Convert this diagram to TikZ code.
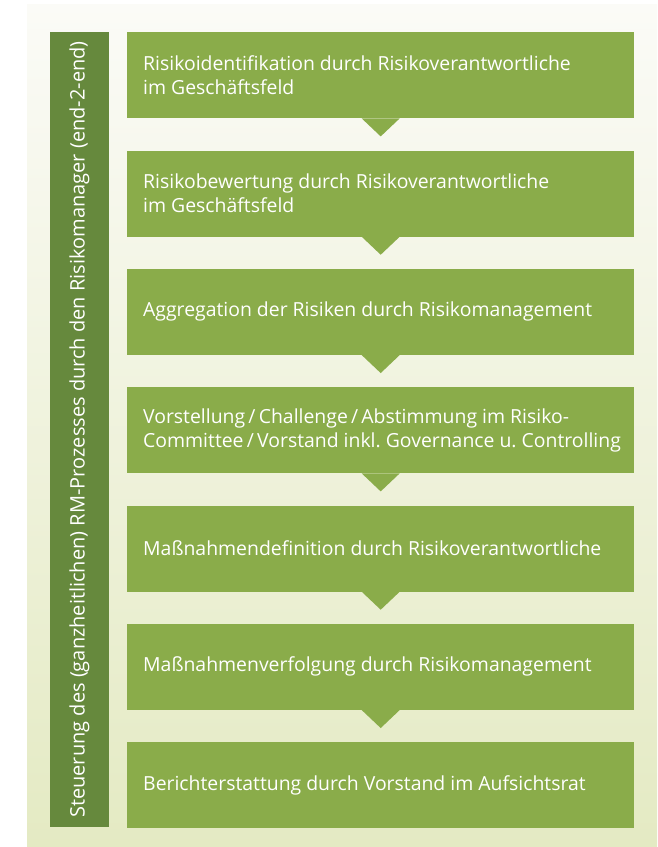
\documentclass[tikz,border=0pt]{standalone}
\usepackage{fontspec}
\setmainfont{Open Sans}
\frenchspacing
\usetikzlibrary{positioning}
\definecolor{boxgreen}{RGB}{138, 172, 74}
\definecolor{bargreen}{RGB}{102, 137, 61}
\definecolor{paneltop}{RGB}{251, 251, 247}
\definecolor{panelbot}{RGB}{228, 234, 195}

\begin{document}
\begin{tikzpicture}[x=1pt, y=-1pt,
		stepbox/.style={fill=boxgreen, inner sep=0pt, minimum width=507pt, minimum height=86pt, anchor=north west},
		steptext/.style={text=white, font=\fontsize{19.4}{24}\selectfont, align=left, inner sep=0pt, anchor=west},
		stepdown/.style={fill=boxgreen}]
		\useasboundingbox (0,0) rectangle (657,847);
		% background panel
		\shade[top color=paneltop, bottom color=panelbot] (27,4) rectangle (657,847);
		% left bar
		\node[fill=bargreen, rotate=90, minimum width=795pt, minimum height=59pt, inner sep=0pt, text=white, font=\fontsize{20}{24}\selectfont] (bar) at (79.5,429.5) {Steuerung des (ganzheitlichen) RM-Prozesses durch den Risikomanager (end-2-end)};
		% process steps
		\foreach \t [count=\i] in {
			{Risikoidentifikation durch Risikoverantwortliche\\im Geschäftsfeld},
			{Risikobewertung durch Risikoverantwortliche\\im Geschäftsfeld},
			{Aggregation der Risiken durch Risikomanagement},
			{Vorstellung\,/\,Challenge\,/\,Abstimmung im Risiko-\\Committee\,/\,Vorstand inkl. Governance u. Controlling},
			{Maßnahmendefinition durch Risikoverantwortliche},
			{Maßnahmenverfolgung durch Risikomanagement},
			{Berichterstattung durch Vorstand im Aufsichtsrat}} {
			\node[stepbox] (step\i) at (127, {32 + (\i-1)*118.33}) {};
			\node[steptext] (txt\i) at ([xshift=16pt]step\i.west) {\t};
		}
		% arrows between the steps
		\foreach \i in {1,...,6} {
			\fill[stepdown] ([xshift=-19pt]step\i.south) -- ([yshift=-18pt]step\i.south) -- ([xshift=19pt]step\i.south) -- cycle;
		}
	\end{tikzpicture}
\end{document}
